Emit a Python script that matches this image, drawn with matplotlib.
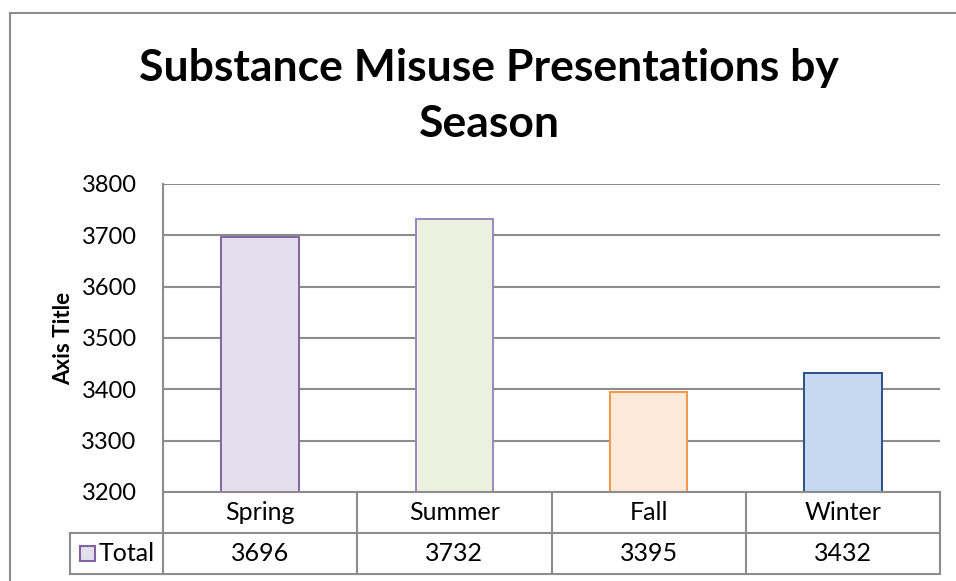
import matplotlib
matplotlib.use("Agg")
import matplotlib.pyplot as plt
import matplotlib.transforms as mtransforms
from matplotlib.patches import Rectangle
from matplotlib.lines import Line2D

categories = ["Spring", "Summer", "Fall", "Winter"]
values = [3696, 3732, 3395, 3432]
series_name = "Total"
yticks = [3200, 3300, 3400, 3500, 3600, 3700, 3800]
title = "Substance Misuse Presentations by\nSeason"
ylabel = "Axis Title"

fills = ["#E4DFEC", "#EBF1DE", "#FDE9D9", "#C5D9F1"]
edges = ["#8064A2", "#9B87C0", "#F79646", "#2C4F86"]
grid_c = "#8C8C8C"

plt.rcParams['font.family'] = ['Lato', 'DejaVu Sans']

W, H = 956, 581
fig = plt.figure(figsize=(W / 100, H / 100), dpi=100)
fig.patch.set_facecolor("white")

# axes placement (pixels)
L, R, T, B = 163, 940, 184, 492
ax = fig.add_axes([L / W, 1 - B / H, (R - L) / W, (B - T) / H])

x = list(range(len(categories)))
ax.bar(x, [v - yticks[0] for v in values], bottom=yticks[0], width=0.4,
       color=fills, edgecolor=edges, linewidth=1.4, zorder=3)
ax.set_xlim(-0.5, len(categories) - 0.5)
ax.set_ylim(yticks[0], yticks[-1])
ax.set_yticks(yticks)
ax.set_yticklabels([str(t) for t in yticks], fontsize=17)
ax.tick_params(axis="y", length=0, pad=19)
ax.set_xticks([])
ax.yaxis.grid(True, color=grid_c, linewidth=1.5, zorder=0)
ax.set_axisbelow(True)
for s in ["top", "right", "bottom"]:
    ax.spines[s].set_visible(False)
ax.spines["left"].set_color(grid_c)
ax.spines["left"].set_linewidth(1.5)

ax.set_ylabel(ylabel, fontsize=16, fontweight="bold", labelpad=5)

# data table under the axes
trans = mtransforms.blended_transform_factory(ax.transData, ax.transAxes)
row_h = 41 / (B - T)
col_w_px = (R - L) / len(categories)
label_left = -0.5 - (L - 70) / col_w_px
lw = 1.5
n = len(categories)

def hline(x0, x1, y):
    ax.add_line(Line2D([x0, x1], [y, y], transform=trans, color=grid_c,
                       linewidth=lw, clip_on=False, zorder=5))

def vline(xx, y0, y1):
    ax.add_line(Line2D([xx, xx], [y0, y1], transform=trans, color=grid_c,
                       linewidth=lw, clip_on=False, zorder=5))

hline(-0.5, n - 0.5, 0)
hline(label_left, n - 0.5, -row_h)
hline(label_left, n - 0.5, -2 * row_h)
for i in range(n + 1):
    vline(i - 0.5, 0, -2 * row_h)
vline(label_left, -row_h, -2 * row_h)

for i, (c, v) in enumerate(zip(categories, values)):
    ax.text(i, -0.5 * row_h, c, transform=trans, ha="center", va="center",
            fontsize=18)
    ax.text(i, -1.5 * row_h, str(v), transform=trans, ha="center",
            va="center", fontsize=18)

# legend key + row label
fig.add_artist(Rectangle((80 / W, 1 - 561 / H), 15 / W, 15 / H,
                         facecolor=fills[0], edgecolor=edges[0],
                         linewidth=1.5, transform=fig.transFigure))
fig.text(99 / W, 1 - 553.5 / H, series_name, ha="left", va="center",
         fontsize=18)

# title
fig.text(489 / W, 1 - 96 / H, title, ha="center", va="center",
         fontsize=32, fontweight="bold", linespacing=1.5)

# outer chart frame
fig.add_artist(Line2D([10 / W, 10 / W], [0, 1 - 13 / H], color=grid_c,
                      linewidth=1.5, transform=fig.transFigure))
fig.add_artist(Line2D([10 / W, 1], [1 - 13 / H, 1 - 13 / H], color=grid_c,
                      linewidth=1.5, transform=fig.transFigure))

fig.savefig("out.png", dpi=100)
